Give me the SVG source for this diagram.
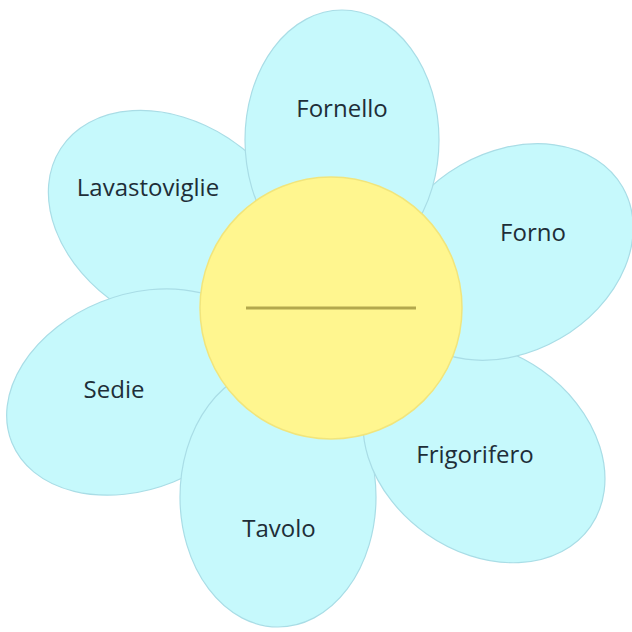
<svg xmlns="http://www.w3.org/2000/svg" width="632" height="632" viewBox="0 0 632 632">
<style>
.petal{fill:#c6f9fc;stroke:#a9dde6;stroke-width:1.2}
.lbl{font-family:"Open Sans","Liberation Sans",sans-serif;font-size:24px;fill:#1e2e38;text-anchor:middle}
.center{fill:#fff68f;stroke:#f1e57c;stroke-width:1.5}
</style>
<rect width="632" height="632" fill="#ffffff"/>
<g id="lavastoviglie">
<ellipse class="petal" cx="174" cy="222" rx="135" ry="100" transform="rotate(33 174 222)"/>
<text class="lbl" x="148" y="196">Lavastoviglie</text>
</g>
<g id="sedie">
<ellipse class="petal" cx="137" cy="392" rx="135" ry="97" transform="rotate(-22 137 392)"/>
<text class="lbl" x="114" y="398">Sedie</text>
</g>
<g id="tavolo">
<ellipse class="petal" cx="278" cy="497" rx="98" ry="130"/>
<text class="lbl" x="279" y="537">Tavolo</text>
</g>
<g id="frigorifero">
<ellipse class="petal" cx="484" cy="452" rx="130" ry="100" transform="rotate(35 484 452)"/>
<text class="lbl" x="475" y="463">Frigorifero</text>
</g>
<g id="forno">
<ellipse class="petal" cx="510" cy="252" rx="130" ry="100" transform="rotate(-30 510 252)"/>
<text class="lbl" x="533" y="241">Forno</text>
</g>
<g id="fornello">
<ellipse class="petal" cx="342" cy="140" rx="97" ry="130"/>
<text class="lbl" x="342" y="117">Fornello</text>
</g>
<g id="centro">
<circle class="center" cx="331" cy="308" r="131"/>
<line x1="246" y1="308" x2="416" y2="308" stroke="#b3a84c" stroke-width="3"/>
</g>
</svg>
